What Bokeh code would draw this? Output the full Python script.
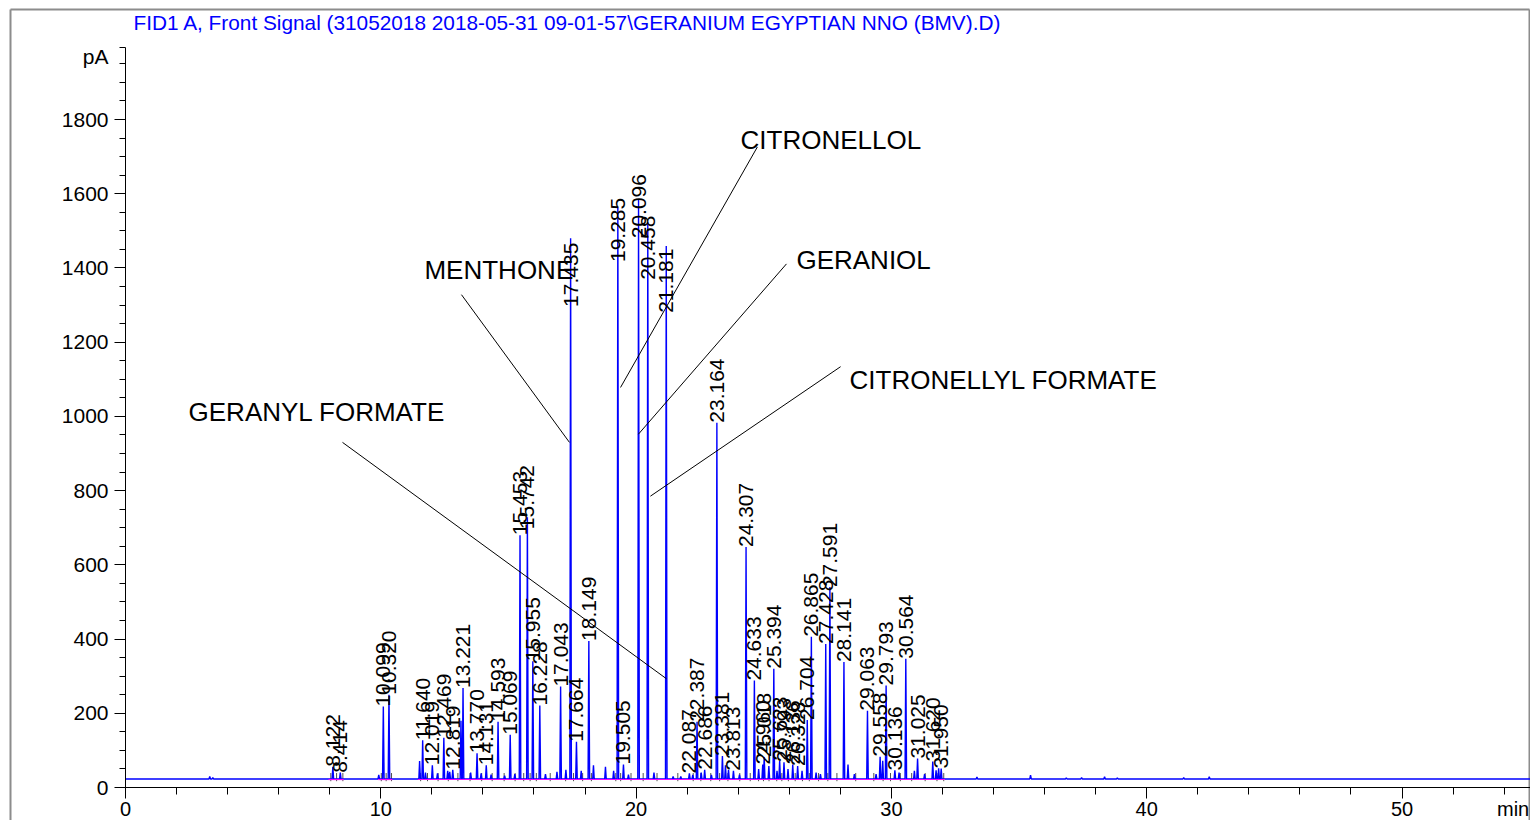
import math
from bokeh.plotting import figure
from bokeh.models import Range1d, FixedTicker
from bokeh.core.properties import value
from bokeh.embed import file_html
from bokeh.resources import INLINE

FONT = "Liberation Sans"
BLUE = "#0000FF"

# ---------------- data ----------------
title_text = "FID1 A, Front Signal (31052018 2018-05-31 09-01-57\\GERANIUM EGYPTIAN NNO (BMV).D)"
y_unit = "pA"
x_unit = "min"

peak_labels = ["8.122", "8.414", "10.099", "10.320", "11.640", "12.019", "12.469", "12.819",
               "13.221", "13.770", "14.131", "14.593", "15.069", "15.453", "15.742", "15.955",
               "16.228", "17.043", "17.435", "17.664", "18.149", "19.285", "19.505", "20.096",
               "20.458", "21.181", "22.087", "22.387", "22.686", "23.164", "23.381", "23.813",
               "24.307", "24.633", "24.960", "25.018", "25.394", "25.623", "25.793", "26.136",
               "26.328", "26.704", "26.865", "27.428", "27.591", "28.141", "29.063", "29.558",
               "29.793", "30.136", "30.564", "31.025", "31.620", "31.950"]
peak_rt = [float(s) for s in peak_labels]
peak_height = [56, 40, 218, 250, 127, 60, 134, 48,
               268, 92, 60, 177, 142, 680, 728, 340,
               221, 272, 1480, 123, 395, 1563, 62, 1583,
               1523, 1459, 38, 177, 48, 983, 85, 45,
               648, 288, 62, 82, 320, 72, 68, 62,
               58, 182, 406, 387, 540, 338, 207, 83,
               275, 46, 347, 78, 70, 51]
# labels of the tallest peaks are printed lower than the drawn apex
label_height = {"17.435": 1295, "19.285": 1416, "20.096": 1480, "20.458": 1368,
                "21.181": 1279, "15.742": 696}

minor_rt = [3.30, 3.42, 9.92, 11.52, 11.75, 12.22, 12.62, 12.70, 13.14, 13.52, 13.93, 14.32,
            14.85, 15.25, 16.45, 16.90, 17.25, 17.85, 18.33, 18.80, 19.12, 19.70, 20.70, 21.45,
            21.75, 22.22, 22.55, 22.95, 23.50, 23.62, 24.05, 24.80, 25.20, 25.52, 25.95, 26.50,
            27.05, 27.22, 28.30, 28.55, 29.40, 29.66, 30.30, 30.90, 31.30, 31.75, 31.85, 33.35,
            35.45, 36.85, 37.45, 38.35, 38.85, 41.45, 42.45]
minor_height = [30, 27, 34, 71, 40, 38, 45, 42, 180, 40, 38, 35,
                32, 36, 36, 42, 48, 45, 60, 56, 45, 35, 40, 30,
                30, 34, 40, 34, 60, 48, 35, 50, 58, 45, 50, 45,
                40, 36, 62, 36, 36, 72, 40, 45, 36, 46, 52, 28,
                33, 26, 27, 29, 26, 27, 29]
baseline_level = 23.0

integration_start = [7.95, 9.90, 11.45]
integration_end = [8.55, 10.45, 32.10]

compound_names = ["CITRONELLOL", "GERANIOL", "CITRONELLYL FORMATE", "MENTHONE", "GERANYL FORMATE"]
compound_x = [24.09, 26.28, 28.36, 11.71, 2.47]
compound_y = [1745, 1422, 1097, 1394, 1013]
leader_x0 = [24.75, 25.89, 28.01, 13.16, 8.50]
leader_y0 = [1726, 1411, 1134, 1328, 930]
leader_x1 = [19.39, 20.09, 20.56, 17.39, 21.19]
leader_y1 = [1078, 952, 785, 930, 293]

x_ticks = [0, 10, 20, 30, 40, 50]
x_minor = [2 * i for i in range(28)]
y_ticks = [0, 200, 400, 600, 800, 1000, 1200, 1400, 1600, 1800]
y_axis_top = 1994
y_minor = [50 * i for i in range(40)] + [y_axis_top]

# ---------------- page layout (pixels of the 1530x820 canvas) ----------------
W, H = 1530, 820
X0_PX, X_SCALE = 125.0, 25.53       # x = 0 min at 125 px, px per minute
Y0_PX, Y_SCALE = 787.0, 0.3711      # y = 0 pA at 787 px, px per pA


def dx(px):
    return (px - X0_PX) / X_SCALE


def dy(py):
    return (Y0_PX - py) / Y_SCALE


x_start, x_end = dx(0), dx(W)
y_start, y_end = dy(H), dy(0)

# ---------------- trace built from the peak table ----------------
half_w = 0.03
all_peaks = sorted(zip(peak_rt + minor_rt, peak_height + minor_height))
trace_x = [0.0]
trace_y = [baseline_level]
for rt, h in all_peaks:
    trace_x += [rt - half_w, rt, rt + half_w]
    trace_y += [baseline_level, h, baseline_level]
trace_x.append(x_end)
trace_y.append(baseline_level)

# integration marks between neighbouring peaks
srt = sorted(peak_rt)
bounds = [srt[0] - 0.08]
for a, b in zip(srt[:-1], srt[1:]):
    if b - a < 1.0:
        bounds.append((a + b) / 2)
    else:
        bounds += [a + 0.1, b - 0.08]
bounds.append(srt[-1] + 0.1)

# ---------------- figure ----------------
p = figure(width=W, height=H, output_backend="svg", toolbar_location=None, title=None,
           x_range=Range1d(x_start, x_end), y_range=Range1d(y_start, y_end),
           min_border_left=0, min_border_right=0, min_border_top=0, min_border_bottom=0,
           background_fill_color="white", border_fill_color="white")
p.xgrid.grid_line_color = None
p.ygrid.grid_line_color = None
p.outline_line_color = None

xa = p.xaxis[0]
xa.fixed_location = 0
xa.bounds = (0, x_end)
xa.ticker = FixedTicker(ticks=x_ticks, minor_ticks=x_minor)
xa.major_label_text_color = None
xa.major_tick_out = 11
xa.major_tick_in = 0
xa.minor_tick_out = 7
xa.minor_tick_in = 0
xa.axis_line_color = "black"
xa.major_tick_line_color = "black"
xa.minor_tick_line_color = "black"

ya = p.yaxis[0]
ya.fixed_location = 0
ya.bounds = (0, y_axis_top)
ya.ticker = FixedTicker(ticks=y_ticks, minor_ticks=y_minor)
ya.major_tick_out = 11
ya.major_tick_in = 0
ya.minor_tick_out = 6
ya.minor_tick_in = 0
ya.major_label_text_font = FONT
ya.major_label_text_font_size = "21px"
ya.major_label_text_color = "black"
ya.major_label_standoff = 6
ya.axis_line_color = "black"
ya.major_tick_line_color = "black"
ya.minor_tick_line_color = "black"

# outer frame of the printout (left, top, right)
p.segment(x0=[dx(10), dx(10), dx(1529)], y0=[y_start, dy(9), y_start],
          x1=[dx(10), dx(1529), dx(1529)], y1=[dy(9), dy(9), dy(9)],
          line_color="#8c8c8c", line_width=2)

# integration tick marks
n = len(bounds)
p.segment(x0=bounds, y0=[baseline_level - 6] * n, x1=bounds, y1=[baseline_level + 16] * n,
          line_color="#505050", line_width=1)

# signal
p.line(trace_x, trace_y, line_color=BLUE, line_width=1.4)

# integration baselines
m = len(integration_start)
p.segment(x0=integration_start, y0=[baseline_level - 1.5] * m, x1=integration_end,
          y1=[baseline_level - 1.5] * m, line_color="#FF00FF", line_width=1.2)

# peak retention-time labels
lab_y = [label_height.get(s, h) for s, h in zip(peak_labels, peak_height)]
p.text(x=peak_rt, y=lab_y, text=peak_labels, angle=math.pi / 2,
       text_align="left", text_baseline="middle", text_font=value(FONT),
       text_font_size="21px", text_color="black")

# compound annotations
p.segment(x0=leader_x0, y0=leader_y0, x1=leader_x1, y1=leader_y1,
          line_color="black", line_width=1)
p.text(x=compound_x, y=compound_y, text=compound_names, text_align="left",
       text_baseline="middle", text_font=value(FONT), text_font_size="26px",
       text_color="black")

# x tick labels and unit
p.text(x=x_ticks, y=[dy(808)] * len(x_ticks), text=[str(t) for t in x_ticks],
       text_align="center", text_baseline="middle", text_font=value(FONT),
       text_font_size="20px", text_color="black")
p.text(x=[x_end - 0.05], y=[dy(808)], text=[x_unit], text_align="right",
       text_baseline="middle", text_font=value(FONT), text_font_size="20px",
       text_color="black")

# y unit and title
p.text(x=[dx(108)], y=[dy(56)], text=[y_unit], text_align="right", text_baseline="middle",
       text_font=value(FONT), text_font_size="21px", text_color="black")
p.text(x=[dx(133)], y=[dy(22)], text=[title_text], text_align="left", text_baseline="middle",
       text_font=value(FONT), text_font_size="20.8px", text_color=BLUE)

open("out.html", "w").write(file_html(p, INLINE))
